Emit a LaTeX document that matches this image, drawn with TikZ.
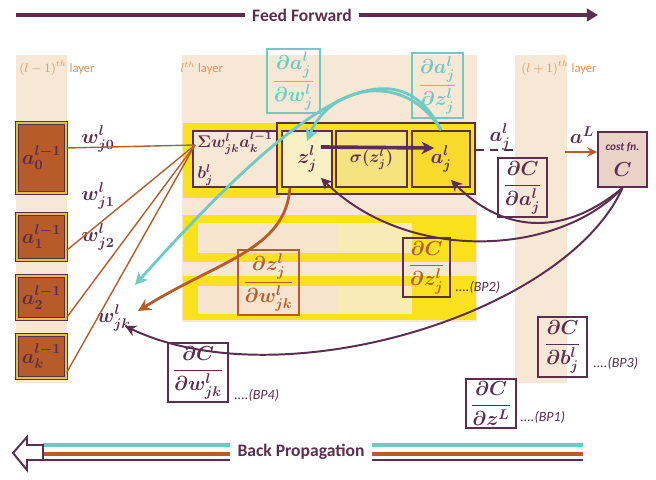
\documentclass[tikz,border=0pt]{standalone}
\usepackage{amsmath,amssymb}
\usepackage{fontspec}
\setmainfont{Carlito}
\usepackage{tikz}
\usetikzlibrary{calc,arrows.meta}
\definecolor{plum}{HTML}{5B2D4E}
\definecolor{rust}{HTML}{B75B2A}
\definecolor{teal}{HTML}{6DCBC3}
\definecolor{sand}{HTML}{F7E7D5}
\definecolor{sun}{HTML}{F9E21C}
\definecolor{paleyel}{HTML}{F8EFC4}
\definecolor{midyel}{HTML}{F6E27E}
\definecolor{deepyel}{HTML}{F8DA2C}
\definecolor{rose}{HTML}{EAD2C9}
\definecolor{dotyel}{HTML}{E8C040}
\definecolor{bandpale}{HTML}{F6E4CF}
\definecolor{bandlight}{HTML}{F8EBB8}
\definecolor{layertxt}{HTML}{D9955C}
\tikzset{
  box/.style={draw=plum, line width=1.3pt, inner sep=0pt, text=plum, font=\Large\boldmath},
  prevbox/.style={box, fill=rust, double=dotyel, double distance=1.5pt, line width=1pt, minimum width=1.225cm},
  cell/.style={box, minimum height=1.4cm},
  fracbox/.style={box, line width=1.5pt},
  cbox/.style={box, draw=teal, text=teal, line width=1.6pt},
  wlab/.style={text=plum, font=\Large\boldmath, inner sep=0pt},
  layerlab/.style={text=layertxt, font=\small, inner sep=0pt},
  bplab/.style={text=plum, font=\normalsize\itshape, inner sep=0pt},
  headline/.style={text=plum, font=\fontsize{12.5}{14}\selectfont\bfseries, inner sep=5pt},
  ffline/.style={draw=plum, line width=2.2pt},
  wline/.style={draw=rust, line width=1pt},
  parrow/.style={draw=plum, line width=1.4pt, -{Stealth[length=8pt,width=8pt]}},
  tarrow/.style={draw=teal, line width=2pt, -{Stealth[length=9pt,width=9pt]}},
  oarrow/.style={draw=rust, line width=2pt, -{Stealth[length=9pt,width=9pt]}},
}
\begin{document}
\begin{tikzpicture}[x=0.025cm,y=-0.025cm]
  \useasboundingbox (0,0) rectangle (656,479);
  \fill[sand] (16,55) rectangle (67,383);
  \fill[sand] (182,55) rectangle (477,322);
  \fill[sand] (515,55) rectangle (567,383);
  \fill[sun] (183,123) rectangle (280,198);
  \foreach \yt/\yb/\it/\ib in {215/262/223/253, 276/320/286/314}{
    \fill[sun] (183,\yt) rectangle (476,\yb);
    \fill[bandpale] (198,\it) rectangle (337,\ib);
    \fill[bandlight] (337,\it) rectangle (412,\ib);
  }

  \node[layerlab, anchor=west] (prevlab) at (19,68) {$(l-1)^{th}$ layer};
  \node[layerlab, anchor=west] (curlab) at (180,68) {$l^{th}$ layer};
  \node[layerlab, anchor=west] (nextlab) at (521,68) {$(l+1)^{th}$ layer};

  \node[headline] (ff) at (302,15) {Feed Forward};
  \coordinate (ffL) at (16,15);
  \coordinate (ffR) at (598,15);
  \draw[ffline] (ffL) -- (ff.west);
  \draw[ffline, -{Triangle[length=8pt,width=9pt]}] (ff.east) -- (ffR);

  \node[prevbox, minimum height=1.75cm] (prev0) at (41.5,158) {$a^{l-1}_0$};
  \node[prevbox, minimum height=1.15cm] (prev1) at (41.5,237) {$a^{l-1}_1$};
  \node[prevbox, minimum height=1.075cm] (prev2) at (41.5,297.5) {$a^{l-1}_2$};
  \node[prevbox, minimum height=1.075cm] (prevk) at (41.5,356.5) {$a^{l-1}_k$};

  \node[box, fill=sun, minimum width=4.95cm, minimum height=1.775cm] (row) at (376,158.5) {};
  \node[cell, fill=sand, minimum width=2.1cm, align=left, font=\large\boldmath] (sum) at (235,159)
    {$\Sigma w^l_{jk}a^{l-1}_k$\\[6pt]$b^l_j$};
  \node[cell, fill=paleyel, minimum width=1.25cm] (z) at (307,159) {\raisebox{5pt}{$z^l_j$}};
  \node[cell, fill=midyel, minimum width=1.775cm, font=\large\boldmath] (sig) at (371.5,159) {\raisebox{-4pt}{$\sigma(z^l_j)$}};
  \node[cell, fill=deepyel, minimum width=1.45cm] (a) at (441,159) {\raisebox{-7pt}{$a^l_j$}};
  \node[box, fill=rose, minimum width=1.225cm, minimum height=1.375cm, align=center] (cost) at (622.5,159.5)
    {{\footnotesize\bfseries\itshape cost fn.}\\[1pt]$C$};

  \node[cbox, minimum width=1.325cm, minimum height=1.6cm] (daw) at (293.5,81)
    {$\dfrac{\partial a^l_j}{\partial w^l_j}$};
  \node[cbox, minimum width=1.275cm, minimum height=1.625cm] (daz) at (437.5,85.5)
    {$\dfrac{\partial a^l_j}{\partial z^l_j}$};
  \node[fracbox, minimum width=1.225cm, minimum height=1.475cm] (dCda) at (522.5,187.5)
    {$\dfrac{\partial C}{\partial a^l_j}$};
  \node[fracbox, draw=rust, text=rust, minimum width=1.525cm, minimum height=1.625cm] (dzdw) at (268.5,282.5)
    {$\dfrac{\partial z^l_j}{\partial w^l_{jk}}$};
  \node[fracbox, text=rust, minimum width=1.175cm, minimum height=1.475cm] (dCdz) at (426.5,267.5)
    {$\dfrac{\partial C}{\partial z^l_j}$};
  \node[fracbox, minimum width=1.225cm, minimum height=1.5cm] (dCdb) at (562.5,347)
    {$\dfrac{\partial C}{\partial b^l_j}$};
  \node[fracbox, minimum width=1.5cm, minimum height=1.475cm] (dCdw) at (198,372.5)
    {$\dfrac{\partial C}{\partial w^l_{jk}}$};
  \node[fracbox, minimum width=1.25cm, minimum height=1.225cm] (dCdzL) at (491,403.5)
    {$\dfrac{\partial C}{\partial z^L}$};

  \node[bplab, anchor=west] (bp1) at ($(dCdzL.east)+(3,13.5)$) {....(BP1)};
  \node[bplab, anchor=west] (bp2) at ($(dCdz.east)+(4,19.5)$) {....(BP2)};
  \node[bplab, anchor=west] (bp3) at ($(dCdb.east)+(5,16)$) {....(BP3)};
  \node[bplab, anchor=west] (bp4) at ($(dCdw.east)+(5,22.5)$) {....(BP4)};

  \node[wlab] (wj0) at (98,139) {$w^l_{j0}$};
  \node[wlab] (wj1) at (98,196) {$w^l_{j1}$};
  \node[wlab] (wj2) at (98,237) {$w^l_{j2}$};
  \node[wlab] (wjk) at (114,318) {$w^l_{jk}$};
  \node[wlab] (ajl) at (500,137) {$a^l_j$};
  \node[wlab] (aL) at (582,135) {$a^L$};

  \coordinate (sumin) at (195,145);
  \foreach \n/\f in {prev0/0.36, prev1/0.78, prev2/0.95, prevk/0.86}
    \draw[wline] (sumin) -- ($(\n.north east)!\f!(\n.south east)$);

  \coordinate (dashend) at (518,150);
  \draw[plum, line width=1.4pt, dash pattern=on 6pt off 4pt] (row.east |- dashend) -- (dashend);
  \coordinate (costin) at (565,152);
  \draw[draw=rust, line width=2pt, -{Stealth[length=7pt,width=7pt]}] (costin) -- (cost.west |- costin);
  \draw[draw=plum, line width=2.6pt, -{Stealth[length=9pt,width=9pt]}] ($(z.east)+(-12,-12)$) -- ($(a.west)+(23,-11)$);

  \coordinate (tw) at (135,285);
  \coordinate (ow) at (138,311);
  \coordinate (pw) at (125,326);
  \draw[tarrow] (a.north) .. controls (405,70) and (330,85) .. ($(z.center)+(0,-18)$);
  \draw[tarrow] (a.north) .. controls (395,40) and (300,100) .. (tw);
  \draw[oarrow] ($(z.south)+(-17,0)$) .. controls (285,250) and (220,260) .. (ow);
  \draw[parrow] (cost.south) .. controls (560,240) and (500,230) .. ($(a.south)+(10,-8)$);
  \draw[parrow] (cost.south) .. controls (560,255) and (410,265) .. ($(z.south east)+(-12,-10)$);
  \draw[parrow] (cost.south) .. controls (565,315) and (280,400) .. (pw);

  \node[headline] (bp) at (301,452) {Back Propagation};
  \coordinate (bpL) at (43,452);
  \coordinate (bpR) at (583,452);
  \foreach \c/\yy/\w in {teal/445/2.2pt, rust/454/2.2pt, plum/460/1.6pt}{
    \draw[draw=\c, line width=\w] (bpL |- 0,\yy) -- (bp.west |- 0,\yy);
    \draw[draw=\c, line width=\w] (bp.east |- 0,\yy) -- (bpR |- 0,\yy);
  }
  \draw[plum, line width=1.4pt, fill=white] (13,453) -- (27,437) -- (27,445) -- (43,445)
    -- (43,460) -- (27,460) -- (27,470) -- cycle;
\end{tikzpicture}
\end{document}
